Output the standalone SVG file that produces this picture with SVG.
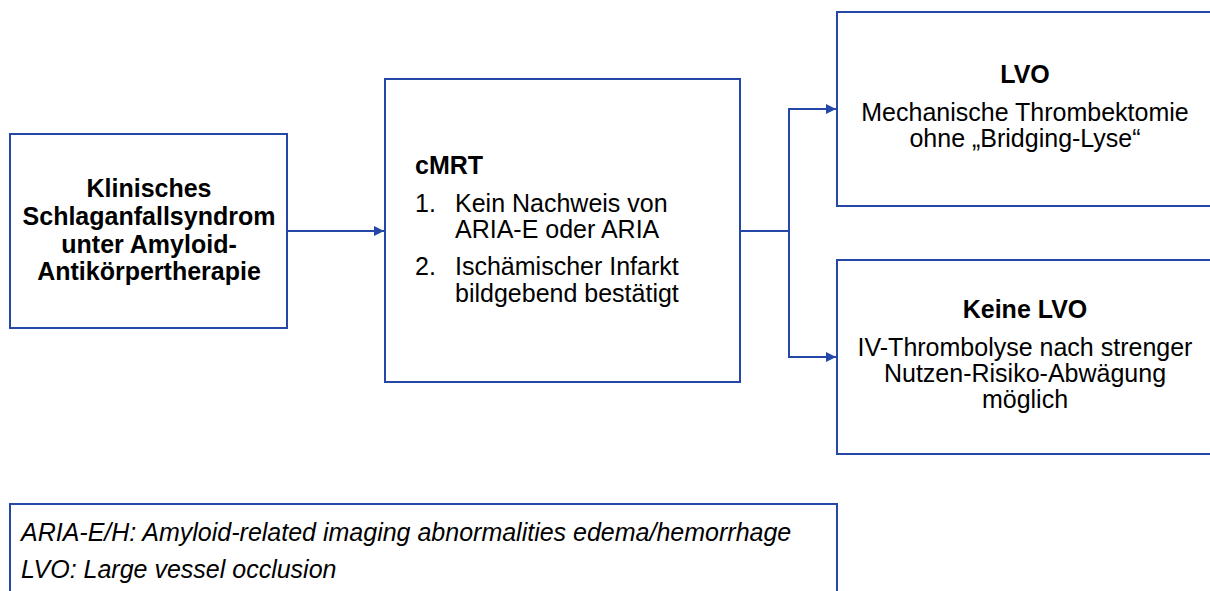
<svg xmlns="http://www.w3.org/2000/svg" width="1210" height="591" viewBox="0 0 1210 591">
<defs>
<style>
.box{fill:#ffffff;stroke:#2447a8;stroke-width:2}
.conn{fill:none;stroke:#2447a8;stroke-width:2}
.t{font-family:"Liberation Sans",Arial,sans-serif;font-size:25px;fill:#000}
.b{font-weight:bold}
.c{text-anchor:middle}
.leg{font-family:"Liberation Sans",Arial,sans-serif;font-size:25px;font-style:italic;fill:#000}
</style>
<marker id="arr" viewBox="0 0 10 10" refX="10" refY="5" markerWidth="5" markerHeight="5" orient="auto" markerUnits="strokeWidth">
<path d="M0,0 L10,5 L0,10 z" fill="#2447a8"/>
</marker>
</defs>
<rect width="1210" height="591" fill="#ffffff"/>
<g id="connectors">
<path class="conn" d="M288,231 H384" marker-end="url(#arr)"/>
<path class="conn" d="M740,231 H789 V109 H836" marker-end="url(#arr)"/>
<path class="conn" d="M789,231 V357 H836" marker-end="url(#arr)"/>
</g>
<g id="node-start">
<rect class="box" x="10" y="134" width="277" height="194"/>
<text class="t b c" x="149" y="197">Klinisches</text>
<text class="t b c" x="149" y="225">Schlaganfallsyndrom</text>
<text class="t b c" x="149" y="253">unter Amyloid-</text>
<text class="t b c" x="149" y="280">Antikörpertherapie</text>
</g>
<g id="node-cmrt">
<rect class="box" x="385" y="79" width="355" height="303"/>
<text class="t b" x="415" y="174">cMRT</text>
<text class="t" x="415" y="212">1.</text>
<text class="t" x="455" y="212">Kein Nachweis von</text>
<text class="t" x="455" y="238">ARIA-E oder ARIA</text>
<text class="t" x="415" y="275">2.</text>
<text class="t" x="455" y="275">Ischämischer Infarkt</text>
<text class="t" x="455" y="302">bildgebend bestätigt</text>
</g>
<g id="node-lvo">
<rect class="box" x="837" y="12" width="376" height="194"/>
<text class="t b c" x="1025" y="83">LVO</text>
<text class="t c" x="1025" y="121">Mechanische Thrombektomie</text>
<text class="t c" x="1025" y="147">ohne „Bridging-Lyse“</text>
</g>
<g id="node-nolvo">
<rect class="box" x="837" y="260" width="376" height="194"/>
<text class="t b c" x="1025" y="318">Keine LVO</text>
<text class="t c" x="1025" y="356">IV-Thrombolyse nach strenger</text>
<text class="t c" x="1025" y="382">Nutzen-Risiko-Abwägung</text>
<text class="t c" x="1025" y="408">möglich</text>
</g>
<g id="legend">
<rect class="box" x="10" y="504" width="827" height="100"/>
<text class="leg" x="21" y="541">ARIA-E/H: Amyloid-related imaging abnormalities edema/hemorrhage</text>
<text class="leg" x="21" y="578">LVO: Large vessel occlusion</text>
</g>
</svg>
